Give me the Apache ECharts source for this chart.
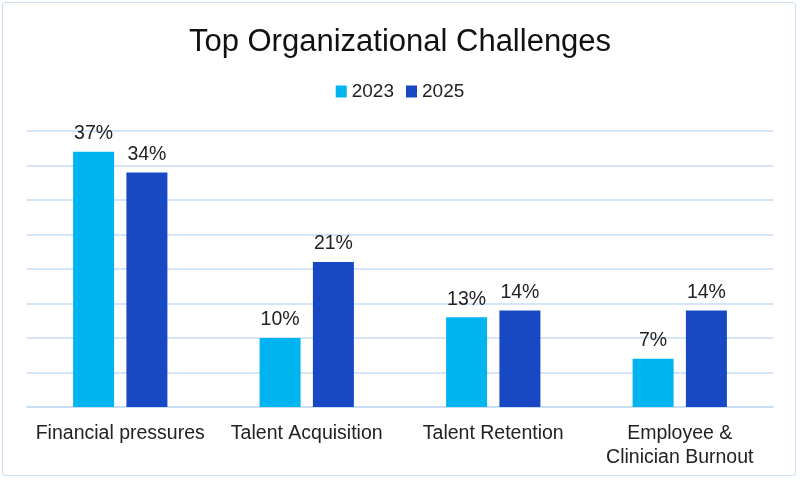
<!DOCTYPE html>
<html><head><meta charset="utf-8">
<script src="https://cdn.jsdelivr.net/npm/echarts@6/dist/echarts.min.js"></script>
<style>html,body{margin:0;padding:0;background:#fff}#c{width:800px;height:480px}
#frame{position:absolute;left:2px;top:2px;width:794px;height:474px;border:1.5px solid #C9DDF5;border-radius:3px;box-sizing:border-box;pointer-events:none}</style>
</head><body><div id="c"></div><div id="frame"></div>
<script>
const categories = ['Financial pressures', 'Talent Acquisition', 'Talent Retention', 'Employee &\nClinician Burnout'];
const values2023 = [37, 10, 13, 7];
const values2025 = [34, 21, 14, 14];
const seriesNames = ['2023', '2025'];

const chart = echarts.init(document.getElementById('c'));
const lbl = {show: true, position: 'top', formatter: '{c}%', color: '#222', fontSize: 19.5, fontFamily: 'Liberation Sans, Arial', distance: 8};
chart.setOption({
  animation: false,
  title: {text: 'Top Organizational Challenges', left: 'center', top: 22,
    textStyle: {fontSize: 31, fontWeight: 'normal', color: '#111', fontFamily: 'Liberation Sans, Arial'}},
  legend: {top: 77, left: 'center', itemWidth: 11, itemHeight: 12, itemGap: 12, icon: 'rect',
    textStyle: {fontSize: 19, color: '#222', fontFamily: 'Liberation Sans, Arial'}},
  grid: {left: 27, right: 27, top: 131, bottom: 73, containLabel: false},
  xAxis: {type: 'category', data: categories,
    axisLine: {lineStyle: {color: '#C5DCF5', width: 1.5}}, axisTick: {show: false},
    axisLabel: {interval: 0, fontSize: 19.5, color: '#222', fontFamily: 'Liberation Sans, Arial', margin: 15, lineHeight: 24}},
  yAxis: {type: 'value', min: 0, max: 40, interval: 5, axisLabel: {show: false},
    splitLine: {lineStyle: {color: '#C5DCF5', width: 1.5}}},
  series: [
    {name: seriesNames[0], type: 'bar', data: values2023, barWidth: 41, barGap: '30%', itemStyle: {color: '#00B5EF'}, label: lbl},
    {name: seriesNames[1], type: 'bar', data: values2025, barWidth: 41, itemStyle: {color: '#1848C4'}, label: lbl}
  ]
});
</script></body></html>
